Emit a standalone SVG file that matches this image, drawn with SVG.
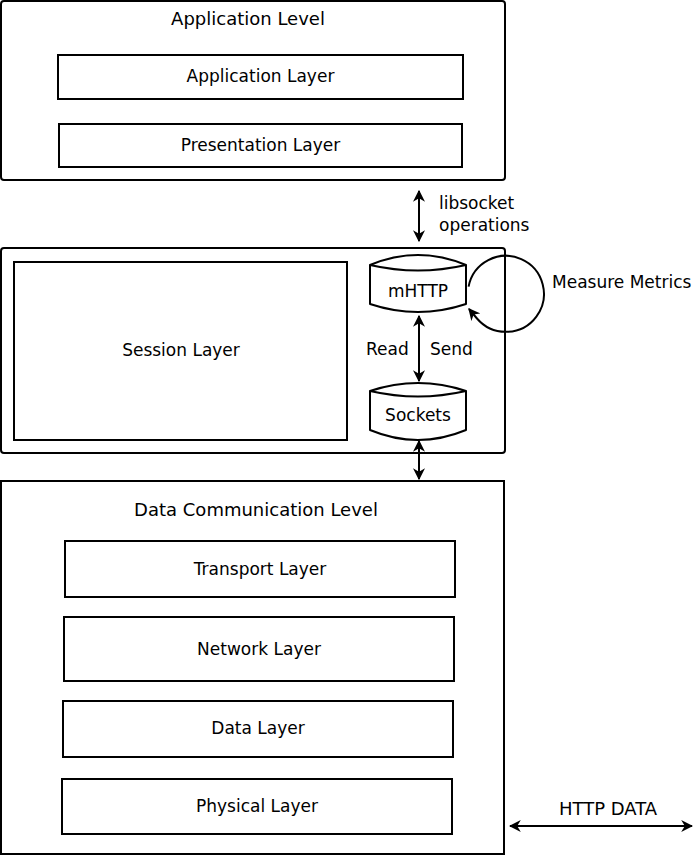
<svg xmlns="http://www.w3.org/2000/svg" width="696" height="856" viewBox="0 0 696 856">
<defs>
<style>
.box{fill:#fff;stroke:#000;stroke-width:2}
.shape{fill:#fff;stroke:#000;stroke-width:2;stroke-linejoin:round}
.line{fill:none;stroke:#000;stroke-width:2}
text{font-family:"DejaVu Sans",sans-serif;font-size:17px;fill:#000}
.t{font-size:18px}
.c{text-anchor:middle}
</style>
<marker id="ah" viewBox="0 0 10 10" refX="9" refY="5" markerWidth="12" markerHeight="12" markerUnits="userSpaceOnUse" orient="auto-start-reverse">
<path d="M0,0 L10,5 L0,10 L3,5 Z" fill="#000"/>
</marker>
</defs>
<rect width="696" height="856" fill="#fff"/>

<g id="application-level">
<rect class="box" x="1" y="1" width="504" height="179" rx="3"/>
<text class="c t" x="248" y="25">Application Level</text>
</g>
<g id="application-layer">
<rect class="box" x="58" y="55" width="405" height="44"/>
<text class="c" x="260.5" y="82">Application Layer</text>
</g>
<g id="presentation-layer">
<rect class="box" x="59" y="124" width="403" height="43"/>
<text class="c" x="260.5" y="151">Presentation Layer</text>
</g>

<g id="session-level">
<rect class="box" x="1" y="248" width="504" height="205" rx="3"/>
</g>
<g id="session-layer">
<rect class="box" x="14" y="262" width="333" height="178"/>
<text class="c" x="181" y="356">Session Layer</text>
</g>
<g id="mhttp">
<path class="shape" d="M370,265 Q418,245 466,265 L466,304 Q418,320 370,304 Z"/>
<path class="line" d="M370,265 Q418,276 466,265"/>
<text class="c" x="418" y="297">mHTTP</text>
</g>
<g id="sockets">
<path class="shape" d="M370,391 Q418,375 466,391 L466,430 Q418,450 370,430 Z"/>
<path class="line" d="M370,391 Q418,402 466,391"/>
<text class="c" x="418" y="421">Sockets</text>
</g>

<g id="data-communication-level">
<rect class="box" x="1" y="481" width="503" height="373"/>
<text class="c t" x="256" y="516">Data Communication Level</text>
</g>
<g id="transport-layer">
<rect class="box" x="65" y="541" width="390" height="56"/>
<text class="c" x="260" y="575">Transport Layer</text>
</g>
<g id="network-layer">
<rect class="box" x="64" y="617" width="390" height="64"/>
<text class="c" x="259" y="655">Network Layer</text>
</g>
<g id="data-layer">
<rect class="box" x="63" y="701" width="390" height="56"/>
<text class="c" x="258" y="734">Data Layer</text>
</g>
<g id="physical-layer">
<rect class="box" x="62" y="779" width="390" height="55"/>
<text class="c" x="257" y="812">Physical Layer</text>
</g>

<g id="connectors">
<line class="line" x1="419" y1="191" x2="419" y2="241" marker-start="url(#ah)" marker-end="url(#ah)"/>
<text x="439" y="209">libsocket</text>
<text x="439" y="231">operations</text>
<line class="line" x1="419" y1="316" x2="419" y2="381" marker-start="url(#ah)" marker-end="url(#ah)"/>
<text x="366" y="355">Read</text>
<text x="430" y="355">Send</text>
<line class="line" x1="419" y1="441" x2="419" y2="479" marker-start="url(#ah)" marker-end="url(#ah)"/>
<path class="line" d="M468.6,286.6 A38,38 0 1 1 477,318.5 L469,309" marker-end="url(#ah)"/>
<text x="552" y="288">Measure Metrics</text>
<line class="line" x1="510" y1="826" x2="692" y2="826" marker-start="url(#ah)" marker-end="url(#ah)"/>
<text class="c t" x="608" y="815">HTTP DATA</text>
</g>
</svg>
